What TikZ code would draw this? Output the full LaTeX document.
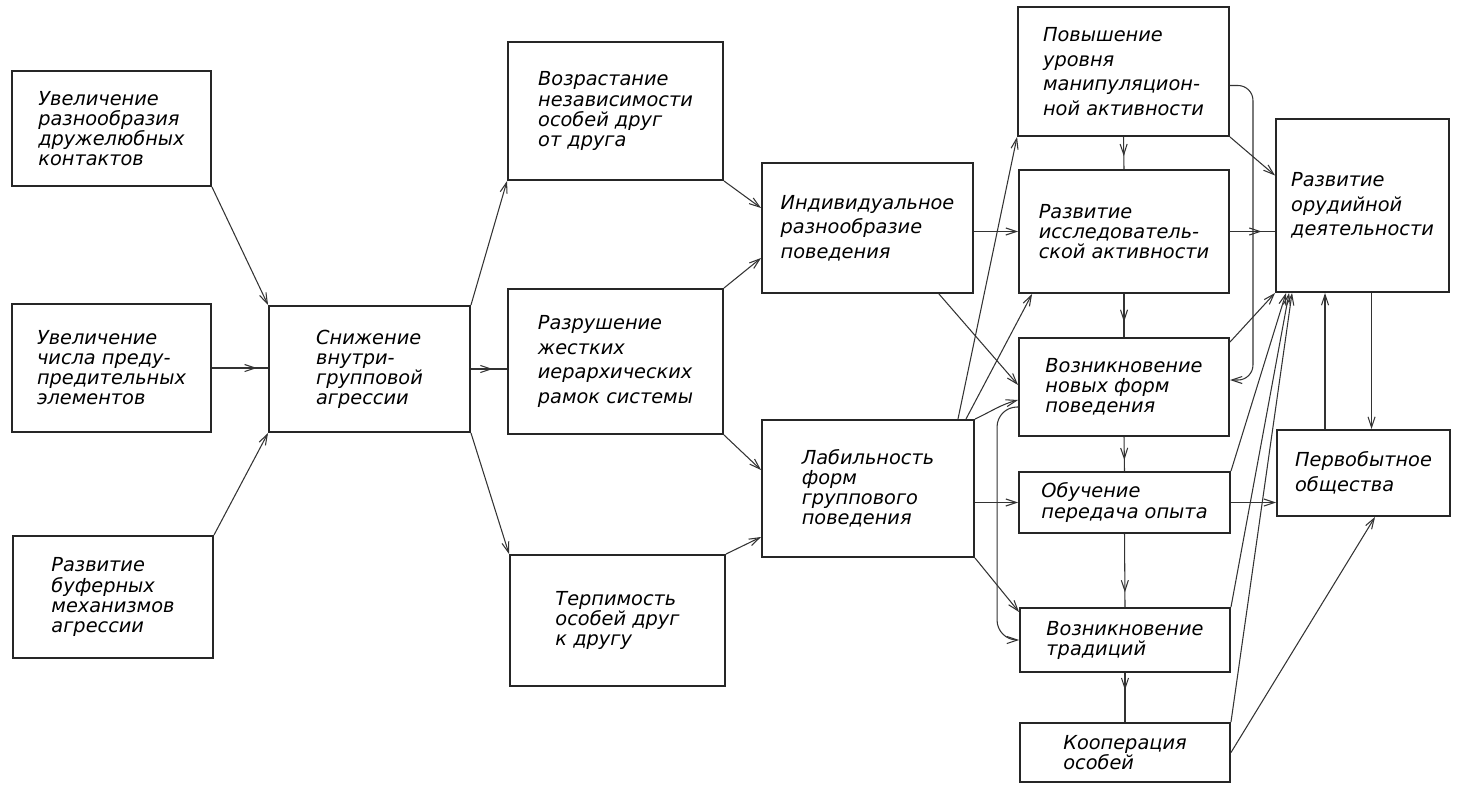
\documentclass[tikz,border=0pt]{standalone}
\usepackage{fontspec}
\setmainfont{DejaVu Sans}
\usetikzlibrary{arrows.meta, positioning, calc, decorations.markings}

\begin{document}
\begin{tikzpicture}[x=0.2mm, y=-0.2mm,
    % block style
    blok/.style={
        rectangle,
        draw=black!85,
        line width=1.1pt,
        align=left,
        inner sep=0pt,
        font=\fontsize{11}{11.4}\selectfont\itshape
    },
    % wider line spacing
    shir/.style={
        font=\fontsize{11}{14}\selectfont\itshape
    },
    strelka/.style={
        -{Straight Barb[length=6pt,width=4pt]},
        line width=0.6pt,
        black!80
    },
    linija/.style={
        line width=0.6pt,
        black!80
    },
    midarrow/.style={
        postaction={decorate},
        decoration={markings, mark=at position #1 with {\arrow{Straight Barb[length=6pt,width=4pt]}}}
    }
]
\useasboundingbox (0,0) rectangle (1466,786);

% === Left column ===
\node[blok, minimum width=39.8mm, minimum height=23mm] (uvelkont) at (111.5,128.5) {Увеличение\\разнообразия\\дружелюбных\\контактов};
\node[blok, minimum width=39.8mm, minimum height=25.6mm] (uvelpred) at (111.5,368) {Увеличение\\числа преду-\\предительных\\элементов};
\node[blok, minimum width=40mm, minimum height=24.4mm] (bufer) at (113,597) {Развитие\\буферных\\механизмов\\агрессии};

\node[blok, minimum width=40.2mm, minimum height=25.2mm] (snizh) at (369.5,369) {Снижение\\внутри-\\групповой\\агрессии};

% === Second column ===
\node[blok, minimum width=43mm, minimum height=27.6mm] (vozr) at (615.5,111) {Возрастание\\независимости\\особей друг\\от друга};
\node[blok, shir, minimum width=43mm, minimum height=29mm] (razrush) at (615.5,361.5) {Разрушение\\жестких\\иерархических\\рамок системы};
\node[blok, minimum width=43mm, minimum height=26.2mm] (terpim) at (617.5,620.5) {Терпимость\\особей друг\\к другу};

\node[blok, shir, minimum width=42.2mm, minimum height=26mm] (indiv) at (867.5,228) {Индивидуальное\\разнообразие\\поведения};
\node[blok, minimum width=42.4mm, minimum height=27.4mm] (labil) at (868,488.5) {Лабильность\\форм\\группового\\поведения};

% === Right column ===
\node[blok, shir, minimum width=42.2mm, minimum height=25.8mm] (povysh) at (1123.5,71.5) {Повышение\\уровня\\манипуляцион-\\ной активности};
\node[blok, minimum width=42mm, minimum height=24.6mm] (issled) at (1124,231.5) {Развитие\\исследователь-\\ской активности};
\node[blok, minimum width=42mm, minimum height=19.6mm] (novye) at (1124,387) {Возникновение\\новых форм\\поведения};
\node[blok, minimum width=42.2mm, minimum height=12.2mm] (obuch) at (1124.5,502.5) {Обучение\\передача опыта};
\node[blok, minimum width=42mm, minimum height=12.8mm] (tradic) at (1125,640) {Возникновение\\традиций};
\node[blok, minimum width=42mm, minimum height=11.8mm] (koop) at (1125,752.5) {Кооперация\\особей};

\node[blok, shir, minimum width=34.6mm, minimum height=34.6mm] (orud) at (1362.5,205.5) {Развитие\\орудийной\\деятельности};
\node[blok, shir, minimum width=34.6mm, minimum height=17.2mm] (pervob) at (1363.5,473) {Первобытное\\общества};

% === Connectors, left part ===
\draw[strelka] (uvelkont.south east) -- (snizh.north west);
\draw[linija, midarrow=0.8] (uvelpred.east) -- (uvelpred.east -| snizh.west);
\draw[strelka] (bufer.north east) -- (snizh.south west);

\draw[strelka] (snizh.north east) -- (vozr.south west);
\draw[linija, midarrow=0.6] (snizh.east) -- (snizh.east -| razrush.west);
\draw[strelka] (snizh.south east) -- (terpim.north west);

\draw[strelka] (vozr.south east) -- ([yshift=4mm]indiv.west);
\draw[strelka] (razrush.north east) -- ([yshift=-6mm]indiv.west);
\draw[strelka] (razrush.south east) -- ([yshift=3.7mm]labil.west);
\draw[strelka] (terpim.north east) -- ([yshift=-9.7mm]labil.west);

% === Connectors, middle part ===
\draw[strelka] (indiv.east |- issled.west) -- (issled.west);
\draw[strelka] ([xshift=-7mm]indiv.south east) -- ([yshift=0.4mm]novye.west);
\draw[strelka] ([xshift=-3.4mm]labil.north east) -- (povysh.south west);
\draw[strelka] ([xshift=-1.8mm]labil.north east) -- ([xshift=2.8mm]issled.south west);
\draw[strelka] (labil.north east) to[out=25, in=195] ([yshift=-2.6mm]novye.west);
\draw[strelka] (labil.east |- obuch.west) -- (obuch.west);
\draw[strelka] (labil.south east) -- ([yshift=5.6mm]tradic.west);
\draw[strelka, rounded corners=4mm] ([yshift=-4mm]novye.west) -| ([xshift=-4.4mm]tradic.west) -- (tradic.west);

% vertical chain
\draw[linija, midarrow=0.6] (povysh.south) -- (issled.north);
\draw[linija, midarrow=0.65] (issled.south) -- (novye.north);
\draw[linija, midarrow=0.68] (novye.south) -- (obuch.north);
\draw[linija, midarrow=0.8] (obuch.south) -- (tradic.north);
\draw[linija, midarrow=0.35] (tradic.south) -- (koop.north);

% === Connectors, right part ===
\draw[linija, midarrow=0.7] (issled.east) -- (issled.east -| orud.west);
\draw[strelka] (povysh.south east) -- ([yshift=6mm]orud.west);
\draw[strelka, rounded corners=3mm] ([yshift=-2.8mm]povysh.east) -| ([xshift=4.6mm, yshift=1.4mm]novye.east) -- ([yshift=1.4mm]novye.east);
\draw[strelka] ([yshift=-1mm]novye.north east) -- (orud.south west);
\draw[strelka] (obuch.north east) -- ([xshift=2.2mm]orud.south west);
\draw[strelka] (tradic.north east) -- ([xshift=2.8mm]orud.south west);
\draw[strelka] (koop.north east) -- ([xshift=3.4mm]orud.south west);
\draw[strelka] ([xshift=-7.7mm]pervob.north) -- ([xshift=-7.7mm]pervob.north |- orud.south);
\draw[strelka] ([xshift=1.8mm]orud.south) -- ([xshift=1.8mm]orud.south |- pervob.north);
\draw[strelka] (obuch.east) -- (obuch.east -| pervob.west);
\draw[strelka] (koop.east) -- ([xshift=2.3mm]pervob.south);

\end{tikzpicture}
\end{document}
